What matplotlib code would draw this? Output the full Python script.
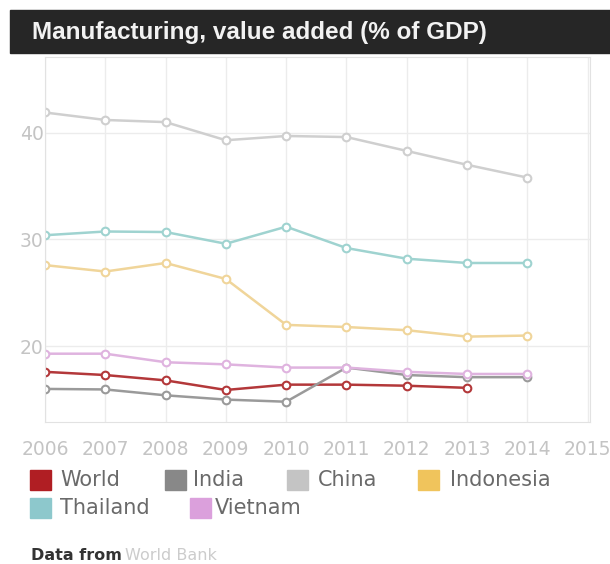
import matplotlib.pyplot as plt
from matplotlib.patches import Rectangle

years = [2006, 2007, 2008, 2009, 2010, 2011, 2012, 2013, 2014]
world = [17.6, 17.3, 16.8, 15.9, 16.4, 16.4, 16.3, 16.1]
india = [16.0, 15.95, 15.4, 15.0, 14.8, 18.0, 17.3, 17.1, 17.1]
china = [41.9, 41.2, 41.0, 39.3, 39.7, 39.6, 38.3, 37.0, 35.8]
indonesia = [27.6, 27.0, 27.8, 26.3, 22.0, 21.8, 21.5, 20.9, 21.0]
thailand = [30.4, 30.75, 30.7, 29.6, 31.2, 29.2, 28.2, 27.8, 27.8]
vietnam = [19.3, 19.3, 18.5, 18.3, 18.0, 18.0, 17.6, 17.4, 17.4]

names = ['World', 'India', 'China', 'Indonesia', 'Thailand', 'Vietnam']
series = [world, india, china, indonesia, thailand, vietnam]
line_cols = ['#b3383a', '#9a9a9a', '#cfcfcf', '#f0d59a', '#9fd3d0', '#dfb3df']
box_cols = ['#b01e23', '#888888', '#c4c4c4', '#f0c45c', '#8dc8cc', '#dba0dc']

xticks = list(range(2006, 2016))
yticks = [20, 30, 40]

fig = plt.figure(figsize=(6.10, 5.64), dpi=100)
W, H = 610, 564

# title bar
fig.add_artist(Rectangle((10 / W, 1 - 53 / H), 1, 43 / H, transform=fig.transFigure,
                         color='#262626', zorder=0))
fig.text(32 / W, 1 - 32 / H, 'Manufacturing, value added (% of GDP)', color='#f2f2f2',
         fontsize=17.5, fontweight='bold', va='center', ha='left',
         family=['Liberation Sans', 'DejaVu Sans'])

ax = fig.add_axes([45 / W, 1 - 422 / H, 545 / W, 365 / H])
for name, vals, c in zip(names, series, line_cols):
    ax.plot(years[:len(vals)], vals, color=c, lw=1.8, marker='o', ms=5.5,
            mfc='white', mec=c, mew=1.5, label=name)

ax.set_xlim(2006, 2015.04)
ax.set_ylim(12.9, 47.1)
ax.set_xticks(xticks)
ax.set_yticks(yticks)
ax.grid(True, color='#ececec', lw=1)
ax.set_axisbelow(True)
for s in ax.spines.values():
    s.set_color('#e2e2e2')
ax.tick_params(length=0, colors='#c4c4c4', labelsize=13.5)
ax.tick_params(axis='x', pad=13)
ax.tick_params(axis='y', pad=1)

# legend drawn by hand
leg = [(30, 480, 60), (165, 480, 193), (287, 480, 318), (418, 480, 450),
       (30, 508, 60), (190, 508, 215)]
for (bx, by, tx), name, c in zip(leg, names, box_cols):
    fig.add_artist(Rectangle((bx / W, 1 - (by + 10) / H), 21 / W, 20 / H,
                             transform=fig.transFigure, color=c))
    fig.text(tx / W, 1 - by / H, name, color='#6a6a6a', fontsize=15,
             va='center', ha='left')

fig.text(31 / W, 1 - 556 / H, 'Data from', color='#333333', fontsize=11.5,
         va='center', ha='left', fontweight='semibold')
fig.text(125 / W, 1 - 556 / H, 'World Bank', color='#cccccc', fontsize=11.5,
         va='center', ha='left')

fig.savefig('out.png', dpi=100)
